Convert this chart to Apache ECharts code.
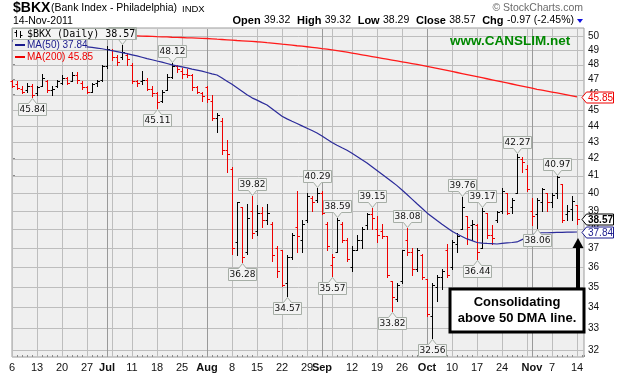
<!DOCTYPE html>
<html><head><meta charset="utf-8">
<script src="https://cdn.jsdelivr.net/npm/echarts@6/dist/echarts.min.js"></script>
<style>html,body{margin:0;padding:0;background:#fff}#c{width:623px;height:378px}</style>
</head><body><div id="c"></div>
<script>
// ---------- DATA ----------
const dates = ['06-06','06-07','06-08','06-09','06-10','06-13','06-14','06-15','06-16','06-17','06-20','06-21','06-22','06-23','06-24','06-27','06-28','06-29','06-30',
'07-01','07-05','07-06','07-07','07-08','07-11','07-12','07-13','07-14','07-15','07-18','07-19','07-20','07-21','07-22','07-25','07-26','07-27','07-28','07-29',
'08-01','08-02','08-03','08-04','08-05','08-08','08-09','08-10','08-11','08-12','08-15','08-16','08-17','08-18','08-19','08-22','08-23','08-24','08-25','08-26','08-29','08-30','08-31',
'09-01','09-02','09-06','09-07','09-08','09-09','09-12','09-13','09-14','09-15','09-16','09-19','09-20','09-21','09-22','09-23','09-26','09-27','09-28','09-29','09-30',
'10-03','10-04','10-05','10-06','10-07','10-10','10-11','10-12','10-13','10-14','10-17','10-18','10-19','10-20','10-21','10-24','10-25','10-26','10-27','10-28','10-31',
'11-01','11-02','11-03','11-04','11-07','11-08','11-09','11-10','11-11','11-14'];
const opens = [46.90,46.70,46.40,46.30,46.60,46.10,46.60,46.90,46.30,46.60,46.80,47.10,46.90,47.30,46.80,46.50,46.20,46.80,47.00,
47.90,49.00,48.50,48.50,48.70,48.00,46.90,46.90,47.00,46.40,46.10,45.60,46.30,47.20,47.90,47.60,47.40,47.30,46.50,46.10,
46.50,45.60,44.50,44.30,42.50,41.40,37.30,39.20,36.80,39.00,37.90,38.90,38.50,38.30,37.00,36.90,35.20,36.50,38.10,37.40,38.50,39.70,39.60,
40.00,38.30,36.10,36.80,38.30,37.40,36.00,36.90,37.40,38.20,38.80,38.00,37.90,37.60,35.30,34.40,35.30,37.40,36.80,35.90,36.60,
35.40,33.60,35.00,35.50,36.90,36.00,37.20,38.00,38.70,38.20,38.20,37.00,38.90,37.70,38.50,39.00,40.00,39.20,40.00,42.00,41.40,
39.00,38.80,39.50,40.00,39.50,40.00,40.50,38.80,39.10,39.32];
const highs = [47.00,46.90,46.60,46.80,46.70,46.60,47.40,47.00,46.60,47.00,47.30,47.20,47.50,47.50,46.90,46.60,46.80,47.00,48.00,
49.30,49.10,48.70,49.35,48.80,48.10,47.00,47.60,47.10,46.60,46.20,46.30,47.40,48.12,48.00,47.80,47.70,47.40,46.60,46.20,
46.60,46.00,44.80,44.50,43.10,41.50,39.50,39.20,39.40,39.82,39.30,39.20,39.40,38.40,37.10,36.90,36.60,37.80,40.10,38.50,40.00,39.80,40.29,
40.10,38.40,36.70,38.59,38.40,37.50,37.10,37.70,38.10,38.90,39.15,38.70,38.30,37.60,35.30,35.20,36.90,38.08,37.00,37.00,36.70,
35.40,35.20,35.60,35.90,37.20,37.40,37.80,39.76,38.70,38.50,38.30,39.17,38.90,38.20,39.00,40.30,40.00,39.70,42.27,42.10,41.60,
39.70,39.70,40.30,40.00,40.00,40.97,40.50,39.30,39.80,39.32];
const lows = [46.50,46.40,46.10,46.20,45.84,46.00,46.60,46.20,46.00,46.50,46.70,46.70,46.90,46.80,46.40,46.10,46.20,46.60,46.90,
47.80,48.30,48.00,48.40,48.00,46.80,46.60,46.70,46.30,45.90,45.11,45.50,46.30,47.10,47.50,47.10,47.20,46.30,46.10,45.60,
45.50,44.40,43.60,42.30,41.20,36.70,36.60,36.28,36.70,37.50,37.70,38.10,38.30,36.30,35.50,35.05,34.57,36.40,36.80,36.80,38.40,39.00,39.50,
38.80,36.90,35.57,36.80,37.30,36.30,35.80,36.90,37.00,38.00,38.00,37.30,37.50,35.50,33.82,34.30,35.20,36.60,35.60,35.80,35.40,
33.60,32.56,34.30,34.90,35.50,35.90,36.80,38.00,37.20,37.40,36.44,37.00,37.50,37.20,38.40,38.90,38.80,38.90,40.00,41.20,40.10,
38.20,38.06,39.00,39.00,39.20,39.70,38.40,38.50,38.50,38.29];
const closes = [46.60,46.45,46.20,46.60,46.00,46.50,47.10,46.30,46.40,46.90,47.10,46.80,47.30,47.00,46.50,46.20,46.70,46.90,47.90,
49.10,48.50,48.20,48.90,48.40,46.90,46.80,46.95,46.40,46.10,45.50,46.20,47.20,47.90,47.70,47.40,47.30,46.50,46.20,45.90,
45.70,44.50,44.70,42.50,42.30,37.00,39.50,36.50,38.60,37.80,38.90,38.50,38.90,36.60,35.80,35.10,36.50,37.70,37.60,38.30,39.80,39.50,40.00,
38.90,37.10,36.50,38.50,37.40,36.40,36.90,37.40,38.00,38.80,38.60,37.70,37.60,35.60,34.50,35.10,36.90,36.80,35.90,36.90,35.50,
33.70,35.10,35.50,35.80,35.60,37.30,37.60,39.20,38.10,38.30,36.80,39.00,37.70,37.50,38.95,40.10,38.90,39.60,42.10,41.80,40.20,
38.70,39.60,40.20,39.50,39.90,40.90,38.50,39.00,39.54,38.57];
const ma50 = [49.65,49.62,49.59,49.56,49.53,49.51,49.48,49.45,49.42,49.39,49.37,49.34,49.32,49.29,49.26,49.23,49.19,49.15,49.10,
49.03,48.97,48.90,48.83,48.76,48.68,48.60,48.51,48.42,48.34,48.25,48.17,48.08,47.99,47.92,47.85,47.78,47.70,47.63,47.56,
47.47,47.38,47.30,47.10,46.89,46.68,46.45,46.22,45.99,45.79,45.64,45.48,45.33,45.09,44.85,44.61,44.44,44.29,44.15,44.00,43.85,43.71,43.56,
43.37,43.17,42.98,42.81,42.65,42.50,42.32,42.13,41.93,41.74,41.52,41.30,41.08,40.86,40.64,40.42,40.17,39.91,39.65,39.39,39.14,
38.88,38.67,38.46,38.26,38.07,37.88,37.73,37.60,37.47,37.38,37.28,37.25,37.23,37.22,37.20,37.23,37.26,37.28,37.31,37.43,37.55,
37.67,37.79,37.80,37.80,37.81,37.82,37.82,37.83,37.83,37.84];
const ma200 = [50.11,50.11,50.10,50.10,50.10,50.09,50.09,50.08,50.08,50.08,50.07,50.07,50.07,50.06,50.06,50.06,50.05,50.05,50.04,
50.04,50.04,50.03,50.03,50.02,50.02,50.01,49.99,49.98,49.97,49.95,49.94,49.93,49.91,49.90,49.89,49.87,49.86,49.85,49.83,
49.82,49.80,49.77,49.75,49.73,49.71,49.68,49.66,49.64,49.62,49.59,49.57,49.53,49.50,49.46,49.42,49.39,49.35,49.31,49.28,49.24,49.20,49.16,
49.11,49.07,49.02,48.97,48.92,48.86,48.80,48.74,48.68,48.62,48.56,48.50,48.44,48.38,48.32,48.26,48.20,48.14,48.08,48.02,47.96,
47.89,47.82,47.75,47.68,47.61,47.54,47.47,47.40,47.33,47.26,47.19,47.12,47.05,46.98,46.91,46.84,46.77,46.70,46.63,46.56,46.49,
46.42,46.35,46.29,46.23,46.17,46.11,46.05,45.99,45.92,45.85];
const xTickIdx    = [0,5,10,15,19,24,29,34,39,44,49,54,59,62,68,73,78,83,88,93,98,104,108,113];
const xTickLabels = ['6','13','20','27','Jul','11','18','25','Aug','8','15','22','29','Sep','12','19','26','Oct','10','17','24','Nov','7','14'];
const monthIdx    = [19,39,62,83,104];
const weekLineIdx = [0,5,10,15,20,24,29,34,44,49,54,59,64,68,73,78,88,93,98,103,108,113];
const yTicks = [32,33,34,35,36,37,38,39,40,41,42,43,44,45,46,47,48,49,50];
const calloutHighIdx = [22,32,48,61,65,72,79,90,94,101,109];
const calloutLowIdx  = [4,29,46,55,64,76,84,93,105];

// ---------- CHART ----------
const N = closes.length;
const XMAX = 114.4, YMIN = 31.68, YMAX = 50.57;
const FONT = '"Liberation Sans", Arial, sans-serif';
const barColor = closes.map((c,i) => (i === 0 ? c < opens[i] : c < closes[i-1]) ? '#ee0000' : '#000000');
const barData = closes.map((c,i) => [i, opens[i], highs[i], lows[i], c]);
const calloutData = calloutHighIdx.map(i => [i, highs[i], 1]).concat(calloutLowIdx.map(i => [i, lows[i], -1]));
const lastC = closes[N-1], lastMa50 = ma50[N-1], lastMa200 = ma200[N-1];
const chg = lastC - closes[N-2];
const vLineIdx = weekLineIdx.concat(monthIdx.filter(m => weekLineIdx.indexOf(m) < 0));

const chart = echarts.init(document.getElementById('c'), null, {renderer:'canvas', width:623, height:378});

// grid lines drawn through the library's scales (one custom item draws all of them)
function gridLines(params, api) {
  const cs = params.coordSys;
  const kids = [];
  yTicks.forEach(v => {
    const y = Math.round(api.coord([1, v])[1]) + 0.5;
    kids.push({type:'line', shape:{x1:cs.x + 1, y1:y, x2:cs.x + cs.width, y2:y}, style:{stroke:'#bdbdbd', lineWidth:1}});
  });
  vLineIdx.forEach(i => {
    const x = Math.round(api.coord([i, 40])[0]) + 0.5;
    const month = monthIdx.indexOf(i) >= 0;
    kids.push({type:'line', shape:{x1:x, y1:cs.y + 1, x2:x, y2:cs.y + cs.height},
      style:{stroke: month ? '#999999' : '#bdbdbd', lineWidth:1}});
  });
  return {type:'group', children:kids};
}
function ohlc(params, api) {
  const i = api.value(0);
  const h = api.coord([i, api.value(2)]), l = api.coord([i, api.value(3)]);
  const o = api.coord([i, api.value(1)]), c = api.coord([i, api.value(4)]);
  const x = Math.round(h[0]) + 0.5;
  const col = barColor[i];
  const oy = Math.round(o[1]) + 0.5, cy = Math.round(c[1]) + 0.5;
  return {type:'group', children:[
    {type:'line', shape:{x1:x, y1:Math.round(h[1]), x2:x, y2:Math.round(l[1]) + 1}, style:{stroke:col, lineWidth:1}},
    {type:'line', shape:{x1:x - 2, y1:oy, x2:x, y2:oy}, style:{stroke:col, lineWidth:1}},
    {type:'line', shape:{x1:x, y1:cy, x2:x + 2.5, y2:cy}, style:{stroke:col, lineWidth:1}}
  ]};
}
function callout(params, api) {
  const i = api.value(0), v = api.value(1), dir = api.value(2);
  const p = api.coord([i, v]);
  const cx = Math.round(p[0]) + 0.5;
  const w = 28, h = 12, nh = 5;
  let pts, ty;
  if (dir > 0) {
    const tip = Math.round(p[1]) - 0.5, base = tip - nh, top = base - h;
    pts = [[cx - w/2, top], [cx + w/2, top], [cx + w/2, base], [cx + 4, base], [cx, tip], [cx - 4, base], [cx - w/2, base]];
    ty = top + h/2;
  } else {
    const tip = Math.round(p[1]) + 1.5, base = tip + nh;
    pts = [[cx - w/2, base], [cx - 4, base], [cx, tip], [cx + 4, base], [cx + w/2, base], [cx + w/2, base + h], [cx - w/2, base + h]];
    ty = base + h/2;
  }
  return {type:'group', children:[
    {type:'polygon', shape:{points:pts}, style:{fill:'#f3f3f3', stroke:'#a6aea6', lineWidth:1}},
    {type:'text', style:{text:v.toFixed(2), x:cx, y:ty + 0.5, align:'center', verticalAlign:'middle',
      font:'9px "DejaVu Sans", sans-serif', fill:'#111'}}
  ]};
}
const tagStyles = [
  {stroke:'#000000', fill:'#000000', font:'bold 10px ' + FONT},
  {stroke:'#1a1a8c', fill:'#1a1a8c', font:'10px ' + FONT},
  {stroke:'#ee0000', fill:'#ee0000', font:'10px ' + FONT}
];
function tag(params, api) {
  const k = api.value(2);
  const p = api.coord([XMAX, api.value(1)]);
  const x0 = Math.round(p[0]), y = Math.round(p[1]) + 0.5;
  const st = tagStyles[k];
  const pts = [[x0 - 2, y], [x0 + 2.5, y - 5.5], [x0 + 29.5, y - 5.5], [x0 + 29.5, y + 5.5], [x0 + 2.5, y + 5.5]];
  return {type:'group', children:[
    {type:'polygon', shape:{points:pts}, style:{fill:'#ffffff', stroke:st.stroke, lineWidth:1}},
    {type:'text', style:{text:api.value(1).toFixed(2), x:x0 + 16.5, y:y + 0.5, align:'center', verticalAlign:'middle', font:st.font, fill:st.fill}}
  ]};
}

const option = {
  animation:false,
  backgroundColor:'#ffffff',
  grid:{left:12, top:28, width:572, height:329, outerBoundsMode:'none', containLabel:false, show:true,
    backgroundColor:'#efefef', borderColor:'#9c9c9c', borderWidth:1},
  xAxis:[{
    type:'value', min:0, max:XMAX, axisLine:{show:false}, axisTick:{show:false}, splitLine:{show:false},
    axisLabel:{customValues:xTickIdx, margin:5, fontSize:11, fontFamily:FONT, color:'#111',
      formatter: v => { const k = xTickIdx.indexOf(Math.round(v)); const t = k >= 0 ? xTickLabels[k] : '';
        return monthIdx.indexOf(Math.round(v)) >= 0 ? '{m|' + t + '}' : t; },
      rich:{m:{fontWeight:'bold', fontSize:11, fontFamily:FONT, color:'#111'}}}
  },{
    type:'value', min:0, max:XMAX, interval:1, position:'bottom', axisLine:{show:false},
    axisTick:{show:true, inside:true, length:2, lineStyle:{color:'#8a8a8a'}}, axisLabel:{show:false}, splitLine:{show:false}
  }],
  yAxis:{type:'log', min:YMIN, max:YMAX, position:'right', axisLine:{show:false},
    axisTick:{show:true, customValues:yTicks, length:3, lineStyle:{color:'#8a8a8a'}},
    axisLabel:{customValues:yTicks, margin:4, fontSize:10, fontFamily:FONT, color:'#111'}, splitLine:{show:false}},
  series:[
    {type:'custom', name:'grid', z:1, silent:true, renderItem:gridLines, encode:{x:0, y:1}, data:[[1, 40]]},
    {type:'custom', name:'BKX', z:3, renderItem:ohlc, encode:{x:0, y:[1,2,3,4]}, data:barData},
    {type:'line', name:'MA(50)', z:4, showSymbol:false, data: ma50.map((v,i) => [i, v]), lineStyle:{color:'#2b2b9a', width:1.2}},
    {type:'line', name:'MA(200)', z:4, showSymbol:false, data: ma200.map((v,i) => [i, v]), lineStyle:{color:'#ff1a1a', width:1.3}},
    {type:'custom', name:'callouts', z:6, renderItem:callout, encode:{x:0, y:1}, data:calloutData},
    {type:'custom', name:'tags', z:7, clip:false, renderItem:tag, encode:{x:0, y:1},
      data:[[XMAX, lastC, 0], [XMAX, lastMa50, 1], [XMAX, lastMa200, 2]]}
  ],
  graphic:[
    // header
    {type:'text', x:13, y:8, style:{text:'$BKX', font:'bold 14px ' + FONT, fill:'#000', verticalAlign:'middle'}},
    {type:'text', x:51, y:8, style:{text:'(Bank Index - Philadelphia)', font:'10.5px ' + FONT, fill:'#000', verticalAlign:'middle'}},
    {type:'text', x:182, y:9, style:{text:'INDX', font:'9.5px ' + FONT, fill:'#000', verticalAlign:'middle'}},
    {type:'text', x:13, y:21, style:{text:'14-Nov-2011', font:'10.5px ' + FONT, fill:'#000', verticalAlign:'middle'}},
    {type:'text', x:583, y:8, style:{text:'\u00A9 StockCharts.com', font:'10.5px ' + FONT, fill:'#6a6a6a', align:'right', verticalAlign:'middle'}},
    {type:'text', x:574, y:20.5, style:{
      text:'{b|Open} {n|' + opens[N-1].toFixed(2) + '}  {b|High} {n|' + highs[N-1].toFixed(2) + '}  {b|Low} {n|' + lows[N-1].toFixed(2) +
        '}  {b|Close} {n|' + lastC.toFixed(2) + '}  {b|Chg} {n|' + chg.toFixed(2) + ' (' + (chg / closes[N-2] * 100).toFixed(2) + '%)}',
      align:'right', verticalAlign:'middle',
      rich:{b:{font:'bold 11px ' + FONT, fill:'#000'}, n:{font:'10.5px ' + FONT, fill:'#000'}}}},
    {type:'polygon', shape:{points:[[577,19],[583,19],[580,23]]}, style:{fill:'#1010e0'}},
    // legend
    {type:'rect', shape:{x:12.5, y:28.5, width:123, height:11}, style:{fill:'#f4f4f4', stroke:'#a6aea6', lineWidth:1}, z:100},
    {type:'line', shape:{x1:16.5, y1:30, x2:16.5, y2:37}, style:{stroke:'#000', lineWidth:1}, z:101},
    {type:'line', shape:{x1:14.5, y1:32.5, x2:16.5, y2:32.5}, style:{stroke:'#000', lineWidth:1}, z:101},
    {type:'line', shape:{x1:20.5, y1:31, x2:20.5, y2:38}, style:{stroke:'#000', lineWidth:1}, z:101},
    {type:'line', shape:{x1:20.5, y1:35.5, x2:22.5, y2:35.5}, style:{stroke:'#000', lineWidth:1}, z:101},
    {type:'text', x:27, y:34.5, z:101, style:{text:'$BKX (Daily) ' + lastC.toFixed(2), font:'10px "DejaVu Sans Mono", monospace', fill:'#000', verticalAlign:'middle'}},
    {type:'rect', shape:{x:13, y:40, width:74, height:10}, style:{fill:'#efefef'}, z:100},
    {type:'line', shape:{x1:15, y1:45, x2:25, y2:45}, style:{stroke:'#1a1a8c', lineWidth:2}, z:101},
    {type:'text', x:27, y:45.5, z:101, style:{text:'MA(50) ' + lastMa50.toFixed(2), font:'10px ' + FONT, fill:'#1a1a8c', verticalAlign:'middle'}},
    {type:'line', shape:{x1:15, y1:57, x2:25, y2:57}, style:{stroke:'#ee0000', lineWidth:2}, z:101},
    {type:'text', x:27, y:57.5, z:101, style:{text:'MA(200) ' + lastMa200.toFixed(2), font:'10px ' + FONT, fill:'#ee0000', verticalAlign:'middle'}},
    // watermark
    {type:'text', x:450, y:41, z:101, style:{text:'www.CANSLIM.net', font:'bold 13.5px ' + FONT, fill:'#008800', verticalAlign:'middle'}},
    // annotation
    {type:'rect', shape:{x:450, y:289, width:134, height:43}, style:{fill:'#ffffff', stroke:'#000000', lineWidth:3}, z:110},
    {type:'text', x:517, y:302, z:111, style:{text:'Consolidating', font:'bold 13px ' + FONT, fill:'#000', align:'center', verticalAlign:'middle'}},
    {type:'text', x:517, y:318, z:111, style:{text:'above 50 DMA line.', font:'bold 13px ' + FONT, fill:'#000', align:'center', verticalAlign:'middle'}},
    {type:'rect', shape:{x:576, y:246, width:4, height:42}, style:{fill:'#000'}, z:110},
    {type:'polygon', shape:{points:[[572.5,248],[583.5,248],[578,238]]}, style:{fill:'#000'}, z:110}
  ]
};
chart.setOption(option);
</script>
</body></html>
